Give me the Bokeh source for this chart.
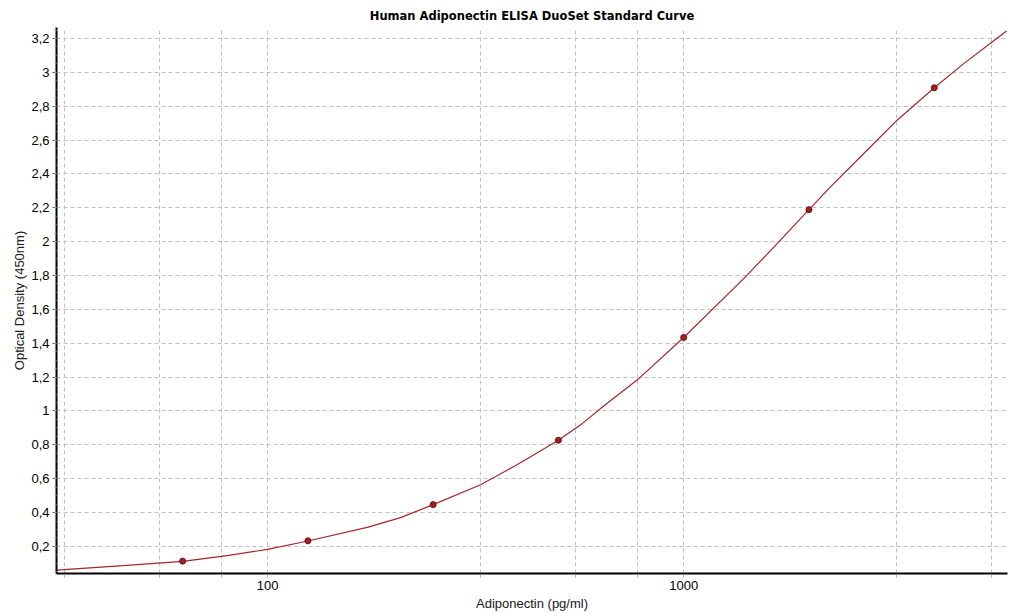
from bokeh.plotting import figure
from bokeh.models import FixedTicker, CustomJSTickFormatter, Range1d
from bokeh.embed import file_html
from bokeh.resources import INLINE

# Standards (pg/ml) and measured optical density
conc = [62.5, 125, 250, 500, 1000, 2000, 4000]
od = [0.113, 0.233, 0.447, 0.827, 1.434, 2.189, 2.909]

# Fitted standard curve
curve_conc = [31.1, 45.0, 62.5, 80, 100, 125, 173.6, 208.8, 250, 325,
              390.9, 436.6, 500, 565.5, 643.4, 774, 1000, 1396,
              1649, 2000, 2256, 2713, 3262, 4000, 4718, 5521, 5968]
curve_od = [0.060, 0.087, 0.112, 0.146, 0.182, 0.232, 0.312, 0.370, 0.447,
            0.564, 0.672, 0.742, 0.827, 0.918, 1.031, 1.184, 1.434,
            1.783, 1.969, 2.189, 2.325, 2.522, 2.719, 2.909, 3.053, 3.181, 3.244]

x_grid = [32.5, 55, 77.5, 100, 325, 550, 775, 1000, 3250, 5500]
x_labels = [100, 1000]
y_ticks = [0.2, 0.4, 0.6, 0.8, 1.0, 1.2, 1.4, 1.6, 1.8, 2.0, 2.2, 2.4, 2.6, 2.8, 3.0, 3.2]
y_minor = [round(0.05 * i, 2) for i in range(1, 66)]

p = figure(width=1029, height=613, x_axis_type="log",
           x_range=Range1d(31.1, 6000), y_range=Range1d(0.04, 3.265),
           output_backend="svg", toolbar_location=None,
           title="Human Adiponectin ELISA DuoSet Standard Curve",
           min_border_left=56, min_border_right=22, min_border_top=27, min_border_bottom=39)

p.outline_line_color = None
p.background_fill_color = "white"
p.border_fill_color = "white"

p.title.align = "center"
p.title.text_font = "DejaVu Sans"
p.title.text_font_size = "11.5px"
p.title.text_font_style = "bold"
p.title.text_color = "black"
p.title.standoff = 9
p.title.offset = 0

# grids
for g in (p.xgrid[0], p.ygrid[0]):
    g.grid_line_color = "#c0c0c0"
    g.grid_line_dash = "4 3"
    g.grid_line_width = 1
p.xgrid[0].ticker = FixedTicker(ticks=x_grid)
p.ygrid[0].ticker = FixedTicker(ticks=y_ticks)

# x axis
xa = p.xaxis[0]
xa.ticker = FixedTicker(ticks=x_grid, minor_ticks=[])
xa.formatter = CustomJSTickFormatter(args=dict(show=x_labels), code="""
    for (const v of show) { if (Math.abs(tick - v) < 1e-6) return String(v); }
    return "";
""")
xa.axis_line_width = 2
xa.axis_line_color = "black"
xa.major_tick_line_color = "#b0b0b0"
xa.major_tick_line_dash = "3 2"
xa.major_tick_out = 4
xa.major_tick_in = 0
xa.minor_tick_line_color = None
xa.major_label_standoff = 3
xa.major_label_text_font = "Liberation Sans"
xa.major_label_text_font_size = "13px"
xa.major_label_text_color = "black"
xa.axis_label = "Adiponectin (pg/ml)"
xa.axis_label_text_font = "Liberation Sans"
xa.axis_label_text_font_size = "13px"
xa.axis_label_text_font_style = "normal"
xa.axis_label_text_color = "#202020"
xa.axis_label_standoff = 3

# y axis
ya = p.yaxis[0]
ya.ticker = FixedTicker(ticks=y_ticks, minor_ticks=y_minor)
ya.formatter = CustomJSTickFormatter(code="""
    const s = (Math.round(tick * 10) / 10).toString();
    return s.replace('.', ',');
""")
ya.axis_line_width = 2
ya.axis_line_color = "black"
ya.major_tick_line_color = "#606060"
ya.major_tick_out = 4
ya.major_tick_in = 0
ya.minor_tick_line_color = "#a0a0a0"
ya.minor_tick_out = 2
ya.minor_tick_in = 0
ya.major_label_standoff = 3
ya.major_label_text_font = "Liberation Sans"
ya.major_label_text_font_size = "13px"
ya.major_label_text_color = "black"
ya.axis_label = "Optical Density (450nm)"
ya.axis_label_text_font = "Liberation Sans"
ya.axis_label_text_font_size = "13px"
ya.axis_label_text_font_style = "normal"
ya.axis_label_text_color = "#202020"
ya.axis_label_standoff = 1

p.line(curve_conc, curve_od, line_color="#A3262A", line_width=1.2)
p.scatter(conc, od, marker="circle", size=6, fill_color="#A51E22", line_color="#6E1014", line_width=1)

open("out.html", "w").write(file_html(p, INLINE))
